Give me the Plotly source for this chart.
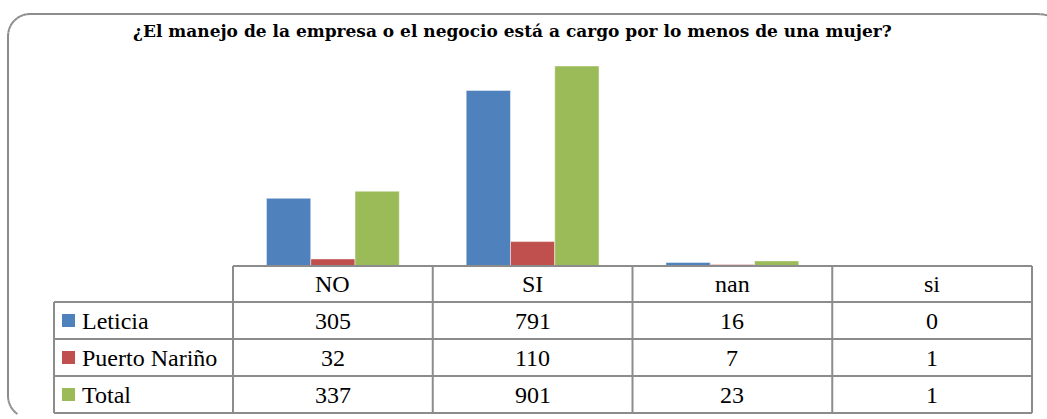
import math
import plotly.graph_objects as go

# ---- data ----
categories = ["NO", "SI", "nan", "si"]
series_names = ["Leticia", "Puerto Nariño", "Total"]
leticia = [305, 791, 16, 0]
puerto_narino = [32, 110, 7, 1]
total = [337, 901, 23, 1]
title_text = "¿El manejo de la empresa o el negocio está a cargo por lo menos de una mujer?"

colors = ["#4F81BD", "#C0504D", "#9BBB59"]
series_values = [leticia, puerto_narino, total]

W, H = 1047, 419
def px(x):
    return x / W
def py(y):
    return 1 - y / H

# layout geometry (pixels)
x_left_tab = 54
x_plot0, x_plot1 = 233, 1032
y_axis = 266
y_top_plot = 44
row_lines = [302, 339, 376, 413]
grid_col = "#8C8C8C"
frame_col = "#8C8C8C"
font_fam = "Liberation Serif"

fig = go.Figure()
for name, vals, c in zip(series_names, series_values, colors):
    fig.add_trace(go.Bar(
        x=categories, y=vals, name=name,
        marker=dict(color=c, line=dict(color="rgba(255,255,255,0.6)", width=0.8)),
        showlegend=False, hoverinfo="x+y+name",
    ))

shapes = []
annotations = []

def seg(x0, y0, x1, y1, color, width=2):
    shapes.append(dict(type="line", xref="paper", yref="paper", x0=px(x0), x1=px(x1), y0=py(y0), y1=py(y1),
                       line=dict(color=color, width=width)))

# frame: rounded outline (right and bottom sides fall outside the picture)
L, T, r = 8, 14, 22
def arc(cx, cy, rad, a0, a1, n=10):
    pts = [(cx + rad * math.cos(math.radians(a0 + (a1 - a0) * k / n)),
            cy - rad * math.sin(math.radians(a0 + (a1 - a0) * k / n))) for k in range(n + 1)]
    for (xa, ya), (xb, yb) in zip(pts[:-1], pts[1:]):
        seg(xa, ya, xb, yb, frame_col)

arc(L + r, T + r, r, 90, 180)              # top-left corner
seg(L, T + r, L, 418 - r, frame_col)        # left side
arc(L + r, 418 - r, r, 180, 235)            # bottom-left corner (runs off the bottom)
seg(L + r, T, 1037, T, frame_col)           # top side
arc(1037, T + 40, 40, 90, 75, n=3)          # top-right corner start

# table grid
col_edges = [x_plot0 + i * (x_plot1 - x_plot0) / len(categories) for i in range(len(categories) + 1)]
seg(x_plot0, y_axis, x_plot1, y_axis, grid_col)
for yl in row_lines:
    seg(x_left_tab, yl, x_plot1, yl, grid_col)
seg(x_left_tab, row_lines[0], x_left_tab, row_lines[-1], grid_col)
for xe in col_edges:
    seg(xe, y_axis, xe, row_lines[-1], grid_col)

fs = 24
# header labels
hdr_y = (y_axis + row_lines[0]) / 2
for i, cat in enumerate(categories):
    cx = (col_edges[i] + col_edges[i + 1]) / 2
    annotations.append(dict(x=px(cx), y=py(hdr_y), xref="paper", yref="paper", text=cat, showarrow=False,
                            xanchor="center", yanchor="middle", font=dict(family=font_fam, size=fs, color="black")))

# rows
for j, (name, vals, c) in enumerate(zip(series_names, series_values, colors)):
    ry = (row_lines[j] + row_lines[j + 1]) / 2
    shapes.append(dict(type="rect", xref="paper", yref="paper", x0=px(62), x1=px(75),
                       y0=py(ry + 6.5), y1=py(ry - 6.5), line=dict(width=0), fillcolor=c))
    annotations.append(dict(x=px(80), y=py(ry), xref="paper", yref="paper", text=name, showarrow=False,
                            xanchor="left", yanchor="middle", font=dict(family=font_fam, size=fs, color="black")))
    for i, v in enumerate(vals):
        cx = (col_edges[i] + col_edges[i + 1]) / 2
        annotations.append(dict(x=px(cx), y=py(ry), xref="paper", yref="paper", text=str(v), showarrow=False,
                                xanchor="center", yanchor="middle", font=dict(family=font_fam, size=fs, color="black")))

# title
annotations.append(dict(x=px(512), y=py(31), xref="paper", yref="paper", text=f"<b>{title_text}</b>",
                        showarrow=False, xanchor="center", yanchor="middle",
                        font=dict(family="DejaVu Serif", size=17, color="black")))

fig.update_layout(
    width=W, height=H,
    margin=dict(l=0, r=0, t=0, b=0),
    paper_bgcolor="white", plot_bgcolor="white",
    barmode="group", bargap=0.335, bargroupgap=0,
    xaxis=dict(domain=[px(x_plot0), px(x_plot1)], showticklabels=False, showline=False,
               showgrid=False, zeroline=False, ticks=""),
    yaxis=dict(domain=[py(y_axis), py(y_top_plot)], range=[0, 1000], visible=False, showgrid=False),
    shapes=shapes, annotations=annotations,
    showlegend=False,
)

fig.write_html("out.html", config={"displayModeBar": False},
               post_script="document.body.style.margin='0';document.body.style.overflow='hidden';")
